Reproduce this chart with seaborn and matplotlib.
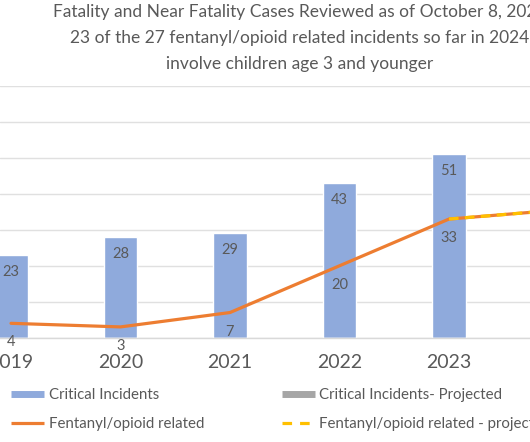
import matplotlib
matplotlib.use("Agg")
import matplotlib.pyplot as plt
from matplotlib.lines import Line2D
import seaborn as sns
import numpy as np
import pandas as pd

# data
years = ["2019", "2020", "2021", "2022", "2023", "2024"]
critical = [23, 28, 29, 43, 51, 0]
critical_projected = [0, 0, 0, 0, 0, 45]
fentanyl = [4, 3, 7, 20, 33]
fentanyl_projected = [33, 35.5]

title = ("Fatality and Near Fatality Cases Reviewed as of October 8, 2024\n"
         "23 of the 27 fentanyl/opioid related incidents so far in 2024\n"
         "involve children age 3 and younger")

BLUE = "#8faadc"
GRAY_BAR = "#a5a5a5"
ORANGE = "#ed7d31"
YELLOW = "#ffc000"
TEXT = "#595959"

sns.set_theme(style="white")
plt.rcParams["font.family"] = ["Lato", "DejaVu Sans"]

df = pd.DataFrame({
    "year": years * 2,
    "value": critical + critical_projected,
    "kind": ["Critical Incidents"] * len(years) + ["Critical Incidents- Projected"] * len(years),
})

fig = plt.figure(figsize=(5.30, 4.42), dpi=100)
# axes is wider than the figure: the picture is a crop of a wider chart
ax = fig.add_axes([0, (442 - 337.7) / 442, 1, (337.7 - 86) / 442])

sns.barplot(data=df, x="year", y="value", hue="kind", dodge=False,
            palette=[BLUE, GRAY_BAR], width=0.305, ax=ax, legend=False,
            saturation=1)

# bar value labels
for cont, vals in zip(ax.containers, [critical, critical_projected]):
    labels = [str(v) if v else "" for v in vals]
    ax.bar_label(cont, labels=labels, padding=-17, fontsize=10.5, color=TEXT)

xs = np.arange(len(fentanyl))
sns.lineplot(x=xs, y=fentanyl, color=ORANGE, linewidth=2.3, ax=ax)
xp = np.arange(len(fentanyl) - 1, len(fentanyl) - 1 + len(fentanyl_projected))
ax.plot(xp, fentanyl_projected, color=ORANGE, linewidth=2.3, solid_capstyle="butt")
ax.plot(xp, fentanyl_projected, color=YELLOW, linewidth=2.3, dashes=(3, 2))

for x, v in zip(xs, fentanyl):
    ax.annotate(str(v), (x, v), xytext=(0, -19), textcoords="offset pixels",
                ha="center", va="center", fontsize=10.5, color=TEXT)

ax.set_xlim(-11 / 109.5, (530 - 11) / 109.5)
ax.set_ylim(0, 70)
ax.set_yticks(range(0, 71, 10))
ax.set_yticklabels([])
ax.tick_params(axis="y", length=0)
ax.tick_params(axis="x", length=0, pad=12, labelsize=14, labelcolor=TEXT)
ax.set_xlabel("")
ax.set_ylabel("")
ax.grid(axis="y", color="#e0e0e0", linewidth=1)
ax.set_axisbelow(True)
for s in ["top", "left", "right"]:
    ax.spines[s].set_visible(False)
ax.spines["bottom"].set_color("#d9d9d9")
ax.spines["bottom"].set_linewidth(1)

fig.text(300 / 530, 1 - 4 / 442, title, ha="center", va="top",
         fontsize=12.5, color=TEXT, linespacing=1.75)

handles = [
    Line2D([], [], color=BLUE, linewidth=5, solid_capstyle="butt"),
    Line2D([], [], color=ORANGE, linewidth=2.3, solid_capstyle="butt"),
    Line2D([], [], color="#a6a6a6", linewidth=5, solid_capstyle="butt"),
    Line2D([], [], color=YELLOW, linewidth=2.3, dashes=(3, 2.5)),
]
labels = ["Critical Incidents", "Fentanyl/opioid related",
          "Critical Incidents- Projected", "Fentanyl/opioid related - projected"]
fig.legend(handles, labels, ncol=2, loc="upper left",
           bbox_to_anchor=(11 / 530, 1 - 388 / 442), frameon=False,
           fontsize=10.8, labelcolor=TEXT, handlelength=2.2, handletextpad=0.3,
           columnspacing=5.2, labelspacing=1.0, borderpad=0, borderaxespad=0)

fig.savefig("out.png", dpi=100)
